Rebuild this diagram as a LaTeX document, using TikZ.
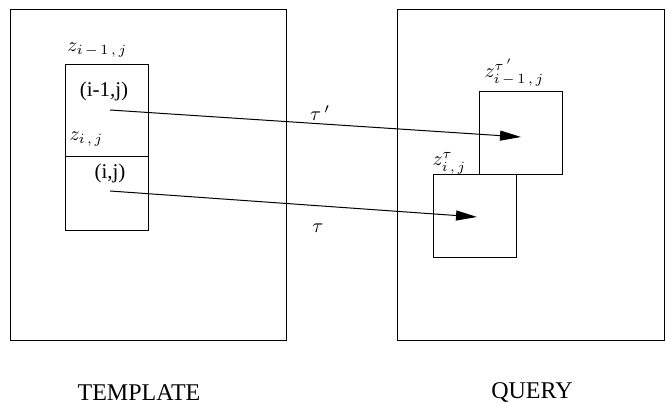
\documentclass[tikz,border=0pt]{standalone}
\usepackage{amsmath}
\usepackage{fontspec}
\setmainfont{Liberation Serif}
\usepackage{tikz}
\usetikzlibrary{arrows.meta}
\begin{document}
\begin{tikzpicture}[x=0.5pt,y=-0.5pt,line width=0.5pt]
            \useasboundingbox (0,0) rectangle (665,405);
            % big frames
            \draw (10,10) rectangle (286,341);
            \draw (397,10) rectangle (664,341);
            % template window
            \draw (65,65) rectangle (148,231);
            \draw (65,157) -- (148,157);
            % query windows
            \draw (479,92) rectangle (562,175);
            \draw (433,175) rectangle (516,258);
            \coordinate (src1) at (110,110);
            \coordinate (dst1) at (521,137);
            \coordinate (src2) at (110,191);
            \coordinate (dst2) at (477,217);
            \draw[-{Triangle[length=10.5pt,width=5pt]}] (src1) -- (dst1);
            \draw[-{Triangle[length=10.5pt,width=5pt]}] (src2) -- (dst2);
            \node[anchor=base west,inner sep=0pt] (zup) at (67,52) {$z_{i\,-\,1\,,\,j}$};
            \node[anchor=base west,inner sep=0pt] (zlo) at (69,141) {$z_{i\,,\,j}$};
            \node[font=\fontsize{10.5}{12}\selectfont] (pup) at (104,91) {(i-1,j)};
            \node[font=\fontsize{10.5}{12}\selectfont] (plo) at (110,173) {(i,j)};
            \node (tp) at (320,113) {$\tau\,'$};
            \node (tn) at (318,228) {$\tau$};
            \node[anchor=base west,inner sep=0pt] (zqup) at (484,78) {$z^{\tau\,'}_{i\,-\,1\,,\,j}$};
            \node[anchor=base west,inner sep=0pt] (zqlo) at (432,166) {$z^{\tau}_{i\,,\,j}$};
            \node[font=\fontsize{12}{14}\selectfont] (tmpl) at (139,393) {TEMPLATE};
            \node[font=\fontsize{12}{14}\selectfont] (qry) at (532,393) {QUERY};
        \end{tikzpicture}
\end{document}
